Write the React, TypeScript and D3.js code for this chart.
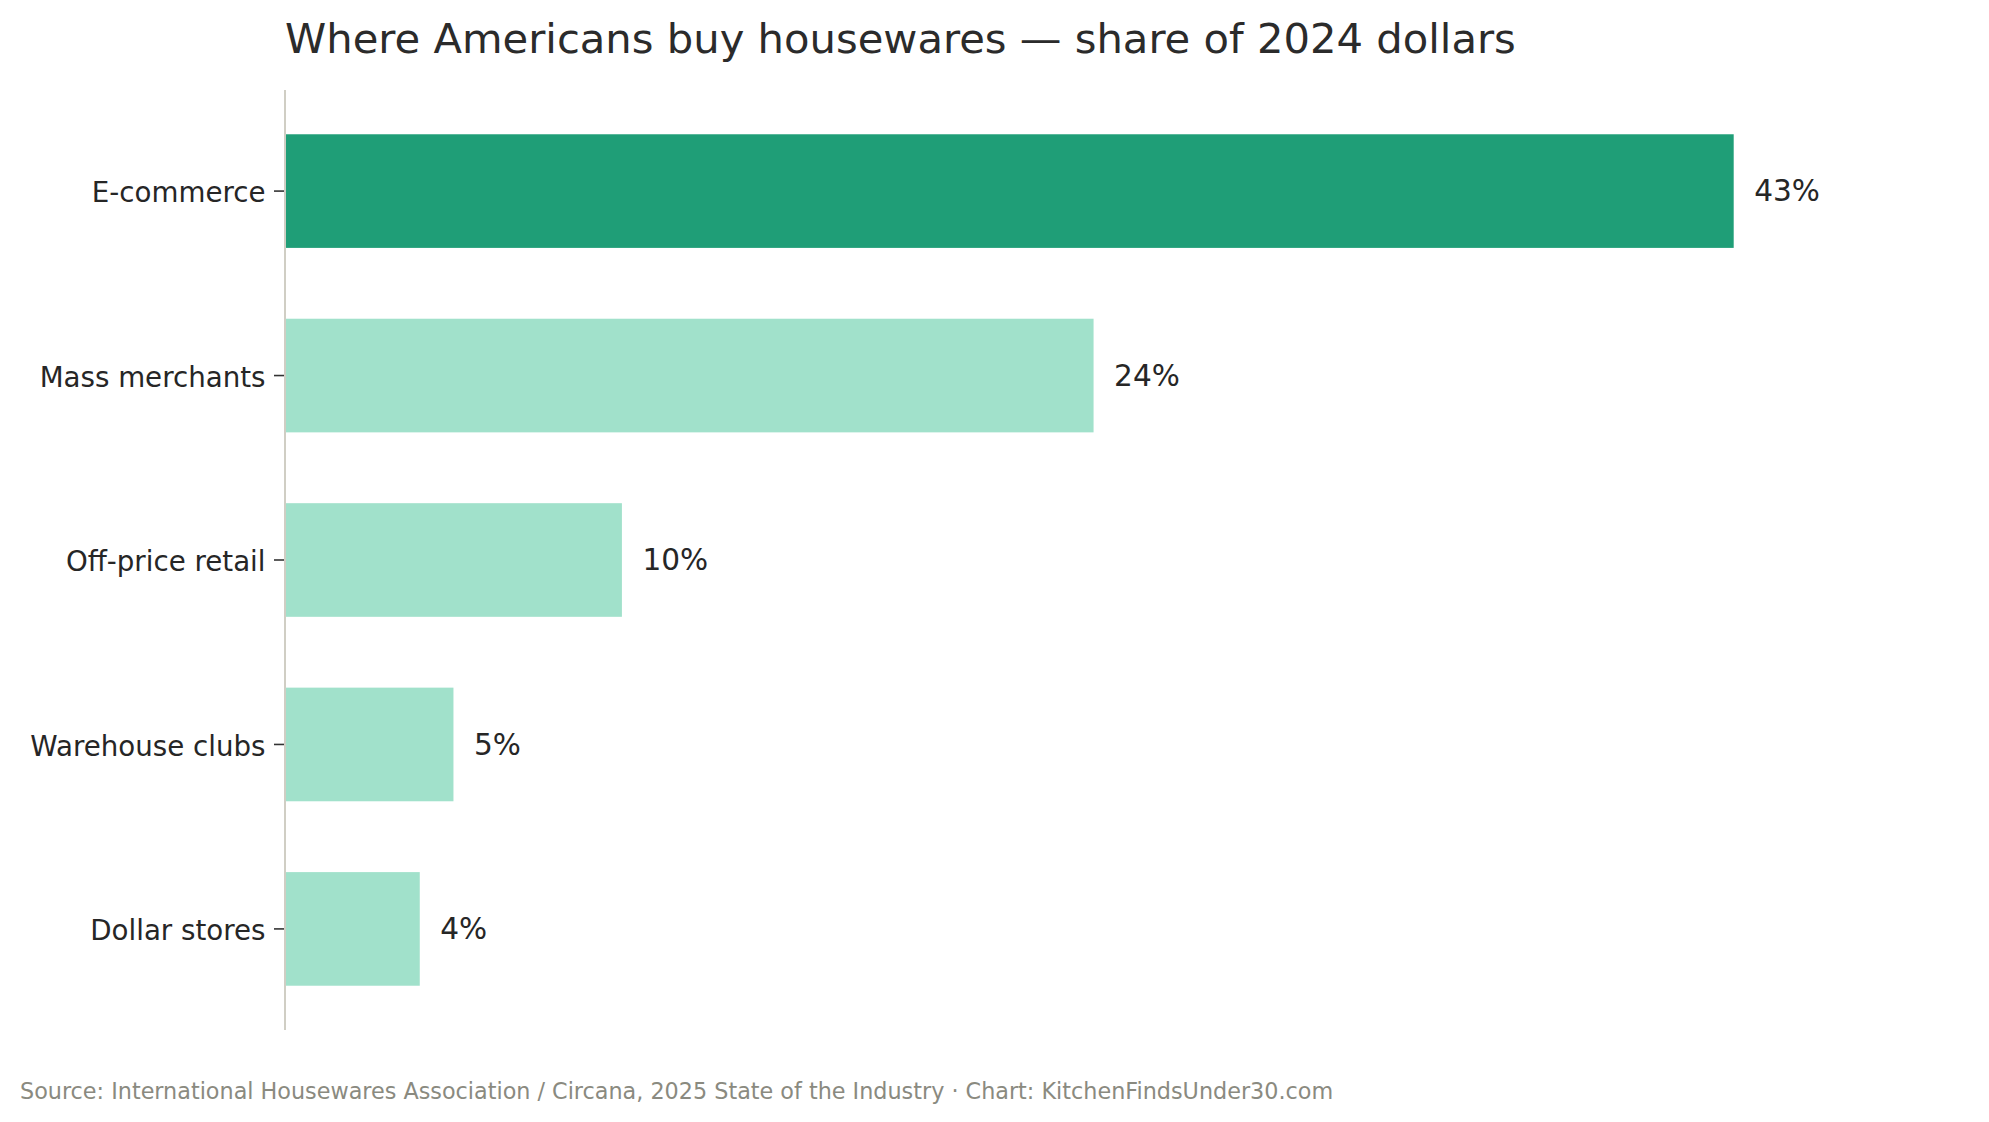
import React from "react";
import * as d3 from "d3";

const categories = ["E-commerce", "Mass merchants", "Off-price retail", "Warehouse clubs", "Dollar stores"];
const shares = [43, 24, 10, 5, 4];
const highlight = ["E-commerce"];

const W = 1989;
const H = 1122;
const FONT = "'DejaVu Sans', sans-serif";

export default function App() {
  const x = d3.scaleLinear().domain([0, 49.45]).range([285, 1951]);
  const y = d3.scaleBand<string>().domain(categories).range([90, 1030]).paddingInner(0.384).paddingOuter(0.24);

  return (
    <svg width={W} height={H} style={{ position: "absolute", left: 0, top: 0, background: "#fff" }} fontFamily={FONT}>
      <text x={285} y={53} fontSize={41.7} fill="#2b2b2b">
        Where Americans buy housewares — share of 2024 dollars
      </text>

      {categories.map((c, i) => {
        const yc = (y(c) as number) + y.bandwidth() / 2;
        return (
          <g key={c}>
            <rect
              x={x(0)}
              y={y(c)}
              width={x(shares[i]) - x(0)}
              height={y.bandwidth()}
              fill={highlight.includes(c) ? "#1f9e77" : "#a1e1cb"}
            />
            <line x1={274} x2={285} y1={yc} y2={yc} stroke="#333" strokeWidth={1.6} />
            <text x={265.5} y={yc} dy="0.4em" textAnchor="end" fontSize={27.7} fill="#262626">
              {c}
            </text>
            <text x={x(shares[i]) + 20.5} y={yc} dy="0.34em" fontSize={29.6} fill="#262626">
              {shares[i]}%
            </text>
          </g>
        );
      })}

      <line x1={285} x2={285} y1={90} y2={1030} stroke="#d0cec4" strokeWidth={2} />

      <text x={20} y={1099} fontSize={22.3} fill="#8a8a80">
        Source: International Housewares Association / Circana, 2025 State of the Industry · Chart: KitchenFindsUnder30.com
      </text>
    </svg>
  );
}
